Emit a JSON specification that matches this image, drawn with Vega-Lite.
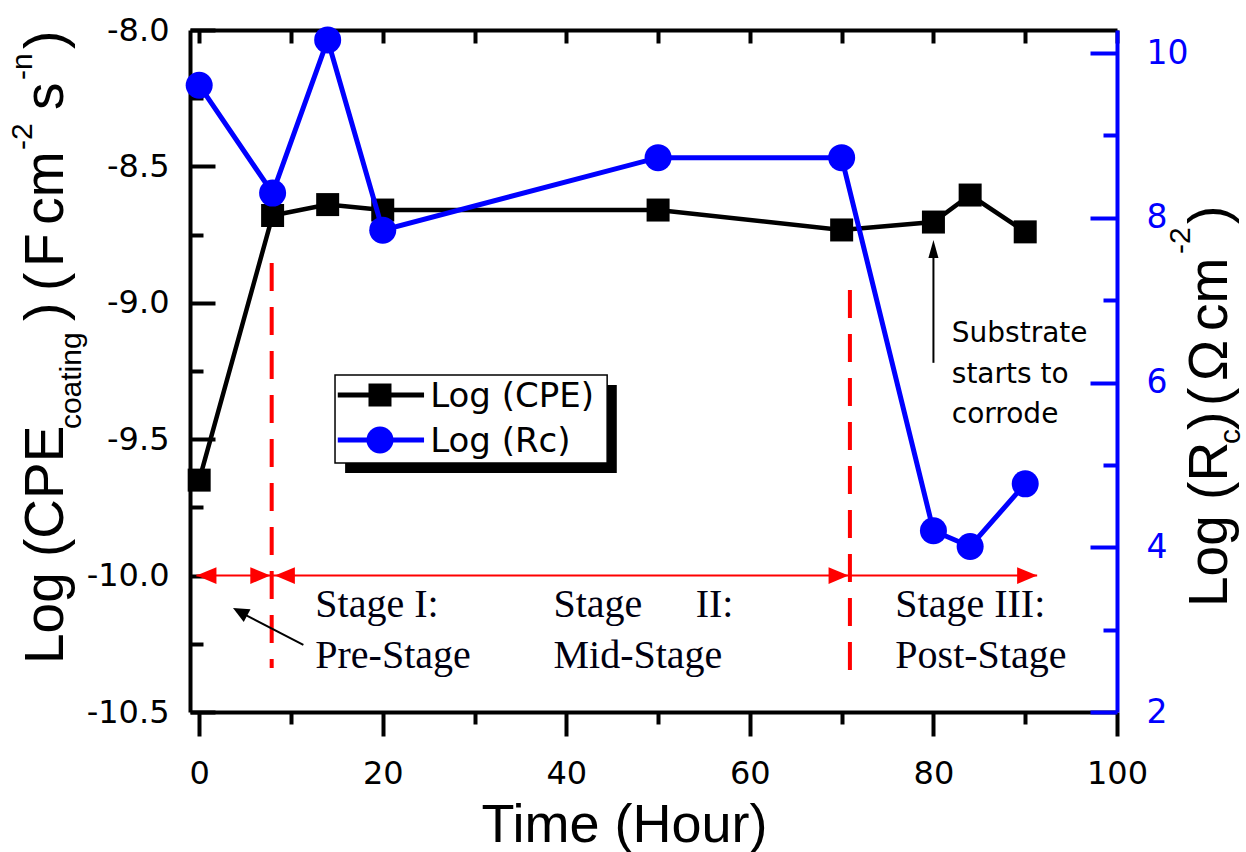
{
  "$schema": "https://vega.github.io/schema/vega-lite/v6.json",
  "width": 927,
  "height": 682,
  "autosize": "none",
  "padding": {"left": 190, "top": 30, "right": 129, "bottom": 140},
  "background": "white",
  "config": {"view": {"stroke": null}, "axis": {"grid": false}},
  "datasets": {
    "cpe": [
      {"t": 0, "v": -9.65}, {"t": 8, "v": -8.68}, {"t": 14, "v": -8.64}, {"t": 20, "v": -8.66},
      {"t": 50, "v": -8.66}, {"t": 70, "v": -8.733}, {"t": 80, "v": -8.704}, {"t": 84, "v": -8.605}, {"t": 90, "v": -8.74}
    ],
    "rc": [
      {"t": 0, "v": 9.61}, {"t": 8, "v": 8.30}, {"t": 14, "v": 10.16}, {"t": 20, "v": 7.85},
      {"t": 50, "v": 8.73}, {"t": 70, "v": 8.73}, {"t": 80, "v": 4.20}, {"t": 84, "v": 4.01}, {"t": 90, "v": 4.77}
    ],
    "redh": [{"t1": -0.3, "t2": 91.3, "y": -10.0}],
    "redv": [{"t": 7.9, "y1": -8.854, "y2": -10.339}, {"t": 70.9, "y1": -8.953, "y2": -10.40}],
    "redheads": [
      {"t": -0.3, "y": -10, "dir": "left"}, {"t": 7.75, "y": -10, "dir": "right"}, {"t": 8.25, "y": -10, "dir": "left"},
      {"t": 70.75, "y": -10, "dir": "right"}, {"t": 91.3, "y": -10, "dir": "right"}
    ],
    "blackarrows": [{"t1": 11.35, "y1": -10.254, "t2": 4.45, "y2": -10.134}, {"t1": 80, "y1": -9.22, "t2": 80, "y2": -8.806}],
    "prehead": [{"t": 3.685, "y": -10.119}],
    "subhead": [{"t": 80, "y": -8.77}],
    "stage": [
      {"t": 12.65, "y": -10.152, "text": "Stage I:"}, {"t": 12.65, "y": -10.339, "text": "Pre-Stage"},
      {"t": 38.6, "y": -10.152, "text": "Stage"}, {"t": 54.1, "y": -10.152, "text": "II:"},
      {"t": 38.6, "y": -10.339, "text": "Mid-Stage"},
      {"t": 75.85, "y": -10.152, "text": "Stage III:"}, {"t": 75.85, "y": -10.339, "text": "Post-Stage"}
    ],
    "note": [
      {"t": 82.0, "y": -9.144, "text": "Substrate"}, {"t": 82.0, "y": -9.294, "text": "starts to"}, {"t": 82.0, "y": -9.441, "text": "corrode"}
    ],
    "legshadow": [{"t1": 15.9, "t2": 45.5, "y1": -9.301, "y2": -9.624}],
    "legbox": [{"t1": 14.8, "t2": 44.45, "y1": -9.265, "y2": -9.587}],
    "leglines": [{"t1": 15.1, "t2": 24.5, "y": -9.338, "s": "CPE"}, {"t1": 15.1, "t2": 24.5, "y": -9.503, "s": "Rc"}],
    "legsq": [{"t": 19.7, "y": -9.338}],
    "legci": [{"t": 19.7, "y": -9.503}],
    "legtext": [{"t": 25.17, "y": -9.382, "text": "Log (CPE)"}, {"t": 25.17, "y": -9.547, "text": "Log (Rc)"}],
    "titlebig": [
      {"t": -14.84, "y": -10.324, "text": "Log (CPE"},
      {"t": -14.84, "y": -9.067, "text": ")"},
      {"t": -14.84, "y": -8.957, "text": "("},
      {"t": -14.84, "y": -8.869, "text": "F"},
      {"t": -14.84, "y": -8.714, "text": "cm"},
      {"t": -14.84, "y": -8.293, "text": "s"},
      {"t": -14.84, "y": -8.070, "text": ")"},
      {"t": 111.99, "y": -10.115, "text": "Log (R"},
      {"t": 111.99, "y": -9.466, "text": ")"},
      {"t": 111.99, "y": -9.378, "text": "("},
      {"t": 111.99, "y": -9.287, "text": "Ω"},
      {"t": 111.99, "y": -9.103, "text": "cm"},
      {"t": 111.99, "y": -8.711, "text": ")"}
    ],
    "titlesmall": [
      {"t": -12.88, "y": -9.463, "text": "coating"},
      {"t": -18.21, "y": -8.440, "text": "-2"},
      {"t": -18.21, "y": -8.183, "text": "-n"},
      {"t": 113.40, "y": -9.518, "text": "c"},
      {"t": 107.97, "y": -8.821, "text": "-2"}
    ]
  },
  "layer": [
    {
      "layer": [
        {
          "data": {"name": "cpe"},
          "mark": {"type": "line", "color": "black", "strokeWidth": 4.5},
          "encoding": {
            "x": {
              "field": "t", "type": "quantitative", "scale": {"domain": [-1, 100], "nice": false, "zero": false},
              "axis": {
                "orient": "bottom", "values": [0, 10, 20, 30, 40, 50, 60, 70, 80, 90, 100],
                "labelExpr": "datum.value % 20 === 0 ? datum.label : ''",
                "tickSize": 24,
                "tickDash": {"condition": {"test": "datum.value % 20 !== 0", "value": [12, 60]}, "value": [40, 0]},
                "tickWidth": 4, "tickColor": "black", "domainColor": "black", "domainWidth": 4,
                "labelFont": "DejaVu Sans", "labelFontSize": 32, "labelColor": "black", "labelPadding": 22,
                "labelFlush": false, "labelOverlap": false, "labelBound": false,
                "title": "Time (Hour)", "titleFont": "Liberation Sans", "titleFontSize": 54, "titleFontWeight": "normal",
                "titleColor": "black", "titlePadding": 9, "titleX": 434, "grid": false
              }
            },
            "y": {
              "field": "v", "type": "quantitative", "scale": {"domain": [-10.5, -8], "nice": false, "zero": false},
              "axis": {
                "orient": "left", "values": [-10.5, -10.25, -10, -9.75, -9.5, -9.25, -9, -8.75, -8.5, -8.25, -8],
                "labelExpr": "abs(datum.value * 2 - round(datum.value * 2)) < 0.001 ? replace(format(datum.value, '.1f'), '\u2212', '-') : ''",
                "tickSize": -25,
                "tickDash": {"condition": {"test": "abs(datum.value * 2 - round(datum.value * 2)) > 0.001", "value": [13, 60]}, "value": [40, 0]},
                "tickWidth": 4, "tickColor": "black", "domainColor": "black", "domainWidth": 4,
                "labelFont": "DejaVu Sans", "labelFontSize": 32, "labelColor": "black", "labelPadding": 46,
                "labelFlush": false, "labelOverlap": false, "labelBound": false,
                "title": "", "grid": false
              }
            }
          }
        },
        {
          "data": {"name": "redh"},
          "mark": {"type": "rule", "color": "#ff0000", "strokeWidth": 2},
          "encoding": {
            "x": {"field": "t1", "type": "quantitative", "scale": {"domain": [-1, 100], "nice": false, "zero": false}},
            "x2": {"field": "t2"},
            "y": {"field": "y", "type": "quantitative", "scale": {"domain": [-10.5, -8], "nice": false, "zero": false}}
          }
        },
        {
          "data": {"name": "redv"},
          "mark": {"type": "rule", "color": "#ff0000", "strokeWidth": 4, "strokeDash": [28, 16]},
          "encoding": {
            "x": {"field": "t", "type": "quantitative", "scale": {"domain": [-1, 100], "nice": false, "zero": false}},
            "y": {"field": "y1", "type": "quantitative", "scale": {"domain": [-10.5, -8], "nice": false, "zero": false}},
            "y2": {"field": "y2"}
          }
        },
        {
          "data": {"name": "redheads"},
          "mark": {"type": "point", "filled": true, "opacity": 1, "color": "#ff0000", "size": 1600, "strokeWidth": 0},
          "encoding": {
            "x": {"field": "t", "type": "quantitative", "scale": {"domain": [-1, 100], "nice": false, "zero": false}},
            "y": {"field": "y", "type": "quantitative", "scale": {"domain": [-10.5, -8], "nice": false, "zero": false}},
            "shape": {"field": "dir", "type": "nominal", "scale": {"domain": ["left", "right"], "range": ["M0,0L1,-0.42L1,0.42Z", "M0,0L-1,-0.42L-1,0.42Z"]}, "legend": null}
          }
        },
        {
          "data": {"name": "cpe"},
          "mark": {"type": "point", "shape": "square", "filled": true, "opacity": 1, "color": "black", "size": 529},
          "encoding": {
            "x": {"field": "t", "type": "quantitative", "scale": {"domain": [-1, 100], "nice": false, "zero": false}},
            "y": {"field": "v", "type": "quantitative", "scale": {"domain": [-10.5, -8], "nice": false, "zero": false}}
          }
        },
        {
          "data": {"name": "blackarrows"},
          "mark": {"type": "rule", "color": "black", "strokeWidth": 2},
          "encoding": {
            "x": {"field": "t1", "type": "quantitative", "scale": {"domain": [-1, 100], "nice": false, "zero": false}},
            "x2": {"field": "t2"},
            "y": {"field": "y1", "type": "quantitative", "scale": {"domain": [-10.5, -8], "nice": false, "zero": false}},
            "y2": {"field": "y2"}
          }
        },
        {
          "data": {"name": "prehead"},
          "mark": {"type": "point", "filled": true, "opacity": 1, "color": "black", "size": 1024, "angle": 298, "strokeWidth": 0, "shape": "M0,0L-0.45,1L0.45,1Z"},
          "encoding": {
            "x": {"field": "t", "type": "quantitative", "scale": {"domain": [-1, 100], "nice": false, "zero": false}},
            "y": {"field": "y", "type": "quantitative", "scale": {"domain": [-10.5, -8], "nice": false, "zero": false}}
          }
        },
        {
          "data": {"name": "subhead"},
          "mark": {"type": "point", "filled": true, "opacity": 1, "color": "black", "size": 1296, "strokeWidth": 0, "shape": "M0,0L-0.28,1L0.28,1Z"},
          "encoding": {
            "x": {"field": "t", "type": "quantitative", "scale": {"domain": [-1, 100], "nice": false, "zero": false}},
            "y": {"field": "y", "type": "quantitative", "scale": {"domain": [-10.5, -8], "nice": false, "zero": false}}
          }
        },
        {
          "data": {"name": "stage"},
          "mark": {"type": "text", "font": "Liberation Serif", "fontSize": 40, "color": "#000010", "align": "left", "baseline": "alphabetic"},
          "encoding": {
            "x": {"field": "t", "type": "quantitative", "scale": {"domain": [-1, 100], "nice": false, "zero": false}},
            "y": {"field": "y", "type": "quantitative", "scale": {"domain": [-10.5, -8], "nice": false, "zero": false}},
            "text": {"field": "text"}
          }
        },
        {
          "data": {"name": "note"},
          "mark": {"type": "text", "font": "DejaVu Sans", "fontSize": 28, "color": "black", "align": "left", "baseline": "alphabetic"},
          "encoding": {
            "x": {"field": "t", "type": "quantitative", "scale": {"domain": [-1, 100], "nice": false, "zero": false}},
            "y": {"field": "y", "type": "quantitative", "scale": {"domain": [-10.5, -8], "nice": false, "zero": false}},
            "text": {"field": "text"}
          }
        },
        {
          "data": {"name": "legshadow"},
          "mark": {"type": "rect", "color": "black"},
          "encoding": {
            "x": {"field": "t1", "type": "quantitative", "scale": {"domain": [-1, 100], "nice": false, "zero": false}},
            "x2": {"field": "t2"},
            "y": {"field": "y1", "type": "quantitative", "scale": {"domain": [-10.5, -8], "nice": false, "zero": false}},
            "y2": {"field": "y2"}
          }
        },
        {
          "data": {"name": "legbox"},
          "mark": {"type": "rect", "fill": "white", "stroke": "black", "strokeWidth": 1.5},
          "encoding": {
            "x": {"field": "t1", "type": "quantitative", "scale": {"domain": [-1, 100], "nice": false, "zero": false}},
            "x2": {"field": "t2"},
            "y": {"field": "y1", "type": "quantitative", "scale": {"domain": [-10.5, -8], "nice": false, "zero": false}},
            "y2": {"field": "y2"}
          }
        },
        {
          "data": {"name": "leglines"},
          "mark": {"type": "rule", "strokeWidth": 5},
          "encoding": {
            "x": {"field": "t1", "type": "quantitative", "scale": {"domain": [-1, 100], "nice": false, "zero": false}},
            "x2": {"field": "t2"},
            "y": {"field": "y", "type": "quantitative", "scale": {"domain": [-10.5, -8], "nice": false, "zero": false}},
            "color": {"field": "s", "type": "nominal", "scale": {"domain": ["CPE", "Rc"], "range": ["black", "#0000ff"]}, "legend": null}
          }
        },
        {
          "data": {"name": "legsq"},
          "mark": {"type": "point", "shape": "square", "filled": true, "opacity": 1, "color": "black", "size": 529},
          "encoding": {
            "x": {"field": "t", "type": "quantitative", "scale": {"domain": [-1, 100], "nice": false, "zero": false}},
            "y": {"field": "y", "type": "quantitative", "scale": {"domain": [-10.5, -8], "nice": false, "zero": false}}
          }
        },
        {
          "data": {"name": "legci"},
          "mark": {"type": "point", "shape": "circle", "filled": true, "opacity": 1, "color": "#0000ff", "size": 729},
          "encoding": {
            "x": {"field": "t", "type": "quantitative", "scale": {"domain": [-1, 100], "nice": false, "zero": false}},
            "y": {"field": "y", "type": "quantitative", "scale": {"domain": [-10.5, -8], "nice": false, "zero": false}}
          }
        },
        {
          "data": {"name": "legtext"},
          "mark": {"type": "text", "font": "DejaVu Sans", "fontSize": 34, "color": "black", "align": "left", "baseline": "alphabetic"},
          "encoding": {
            "x": {"field": "t", "type": "quantitative", "scale": {"domain": [-1, 100], "nice": false, "zero": false}},
            "y": {"field": "y", "type": "quantitative", "scale": {"domain": [-10.5, -8], "nice": false, "zero": false}},
            "text": {"field": "text"}
          }
        },
        {
          "data": {"name": "titlebig"},
          "mark": {"type": "text", "font": "Liberation Sans", "fontSize": 55, "color": "black", "align": "left", "baseline": "alphabetic", "angle": 270},
          "encoding": {
            "x": {"field": "t", "type": "quantitative", "scale": {"domain": [-1, 100], "nice": false, "zero": false}},
            "y": {"field": "y", "type": "quantitative", "scale": {"domain": [-10.5, -8], "nice": false, "zero": false}},
            "text": {"field": "text"}
          }
        },
        {
          "data": {"name": "titlesmall"},
          "mark": {"type": "text", "font": "Liberation Sans", "fontSize": 30, "color": "black", "align": "left", "baseline": "alphabetic", "angle": 270},
          "encoding": {
            "x": {"field": "t", "type": "quantitative", "scale": {"domain": [-1, 100], "nice": false, "zero": false}},
            "y": {"field": "y", "type": "quantitative", "scale": {"domain": [-10.5, -8], "nice": false, "zero": false}},
            "text": {"field": "text"}
          }
        }
      ]
    },
    {
      "layer": [
        {
          "data": {"name": "rc"},
          "mark": {"type": "line", "color": "#0000ff", "strokeWidth": 5},
          "encoding": {
            "x": {
              "field": "t", "type": "quantitative", "scale": {"domain": [-1, 100], "nice": false, "zero": false},
              "axis": {
                "orient": "top", "values": [0, 10, 20, 30, 40, 50, 60, 70, 80, 90, 100],
                "tickSize": -13, "tickWidth": 4, "tickColor": "black", "labels": false,
                "domainColor": "black", "domainWidth": 4, "title": "", "grid": false
              }
            },
            "y": {
              "field": "v", "type": "quantitative", "scale": {"domain": [2, 10.28], "nice": false, "zero": false},
              "axis": {
                "orient": "right", "values": [2, 3, 4, 5, 6, 7, 8, 9, 10],
                "labels": false,
                "tickSize": -27,
                "tickDash": {"condition": {"test": "datum.value % 2 !== 0", "value": [14, 60]}, "value": [40, 0]},
                "tickWidth": 4, "tickColor": "#0000ff", "domainColor": "#0000ff", "domainWidth": 4,
                "title": "", "grid": false
              }
            }
          }
        },
        {
          "data": {"name": "rc"},
          "mark": {"type": "point", "shape": "circle", "filled": true, "opacity": 1, "color": "#0000ff", "size": 729},
          "encoding": {
            "x": {"field": "t", "type": "quantitative", "scale": {"domain": [-1, 100], "nice": false, "zero": false}},
            "y": {"field": "v", "type": "quantitative", "scale": {"domain": [2, 10.28], "nice": false, "zero": false}}
          }
        }
      ]
    },
    {
      "data": {"name": "rc"},
      "mark": {"type": "point", "opacity": 0},
      "encoding": {
        "x": {"field": "t", "type": "quantitative", "scale": {"domain": [-1, 100], "nice": false, "zero": false}, "axis": null},
        "y": {
          "field": "v", "type": "quantitative", "scale": {"domain": [2, 10.28], "nice": false, "zero": false},
          "axis": {
            "orient": "right", "values": [2, 4, 6, 8, 10], "ticks": false, "domain": false,
            "labelExpr": "format(datum.value, 'd')",
            "labelFont": "DejaVu Sans", "labelFontSize": 33, "labelColor": "#0000ff", "labelPadding": 29,
            "labelFlush": false, "labelOverlap": false, "labelBound": false,
            "title": "", "grid": false
          }
        }
      }
    }
  ],
  "resolve": {"scale": {"y": "independent"}, "axis": {"x": "independent"}}
}
